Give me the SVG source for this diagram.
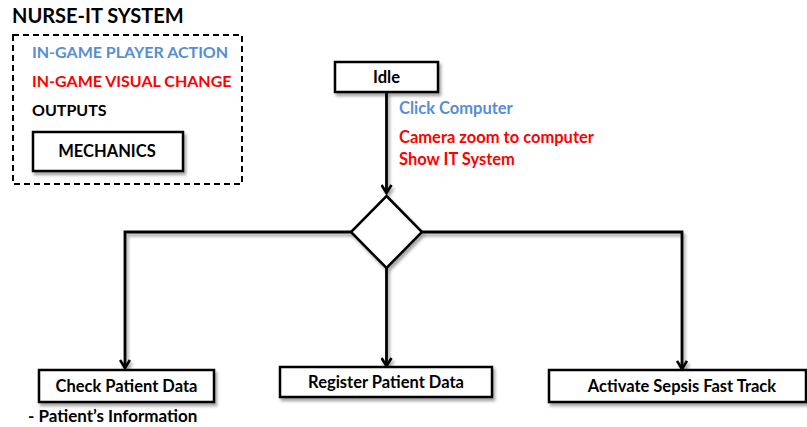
<svg xmlns="http://www.w3.org/2000/svg" width="807" height="427" viewBox="0 0 807 427">
  <defs>
    <filter id="shadow" x="-10%" y="-20%" width="130%" height="160%">
      <feDropShadow dx="2" dy="3" stdDeviation="1.5" flood-color="#000" flood-opacity="0.35"/>
    </filter>
    <marker id="arrow" viewBox="0 0 12 12" refX="10" refY="6" markerWidth="12" markerHeight="12" markerUnits="userSpaceOnUse" orient="auto">
      <path d="M2,1 L10,6 L2,11" fill="none" stroke="#000" stroke-width="2.6"/>
    </marker>
  </defs>
  <style>
    text { font-family: Lato, "Liberation Sans", sans-serif; font-weight: bold; }
    .box { fill: #fff; stroke: #000; stroke-width: 2.5; }
    .lbl { font-size: 16.5px; fill: #000; text-anchor: middle; }
    .wire { fill: none; stroke: #000; stroke-width: 2.8; }
    .leg { font-size: 16px; }
    .note { font-size: 16.5px; }
    .blue { fill: #558ED5; }
    .red { fill: #FF0000; }
    .black { fill: #000; }
  </style>
  <rect width="807" height="427" fill="#fff"/>

  <!-- legend -->
  <g id="legend">
    <text x="12" y="23" font-size="20" fill="#000">NURSE-IT SYSTEM</text>
    <rect x="13" y="35" width="229" height="149" fill="none" stroke="#000" stroke-width="2" stroke-dasharray="6,4"/>
    <text class="leg blue" x="32" y="58">IN-GAME PLAYER ACTION</text>
    <text class="leg red" x="32" y="87">IN-GAME VISUAL CHANGE</text>
    <text class="leg black" x="32" y="116">OUTPUTS</text>
    <g filter="url(#shadow)">
      <rect class="box" x="33" y="132" width="150" height="39"/>
    </g>
    <text class="lbl" x="107" y="157" font-size="16">MECHANICS</text>
  </g>

  <!-- connectors -->
  <g id="connectors" filter="url(#shadow)">
    <path class="wire" d="M386.5,92 V193" marker-end="url(#arrow)"/>
    <path class="wire" d="M351,232 H125 V368" marker-end="url(#arrow)"/>
    <path class="wire" d="M386.5,268 V366" marker-end="url(#arrow)"/>
    <path class="wire" d="M422,232 H682 V369" marker-end="url(#arrow)"/>
  </g>

  <g id="idle">
    <rect class="box" x="335" y="62" width="103" height="30" filter="url(#shadow)"/>
    <text class="lbl" x="386.5" y="83">Idle</text>
  </g>

  <g id="transition-labels">
    <text class="note blue" x="399" y="114">Click Computer</text>
    <text class="note red" x="399" y="143">Camera zoom to computer</text>
    <text class="note red" x="399" y="165">Show IT System</text>
  </g>

  <g id="decision">
    <polygon class="box" points="386.5,196 422,232 386.5,268 351,232" filter="url(#shadow)"/>
  </g>

  <g id="check-patient-data">
    <rect class="box" x="39" y="370" width="175" height="32" filter="url(#shadow)"/>
    <text class="lbl" x="126.5" y="392">Check Patient Data</text>
    <text class="black" x="28" y="422" font-size="17">- Patient’s Information</text>
  </g>

  <g id="register-patient-data">
    <rect class="box" x="280" y="367" width="212" height="30" filter="url(#shadow)"/>
    <text class="lbl" x="386" y="388">Register Patient Data</text>
  </g>

  <g id="activate-sepsis">
    <rect class="box" x="549" y="370" width="257" height="32" filter="url(#shadow)"/>
    <text class="lbl" x="682" y="392">Activate Sepsis Fast Track</text>
  </g>
</svg>
